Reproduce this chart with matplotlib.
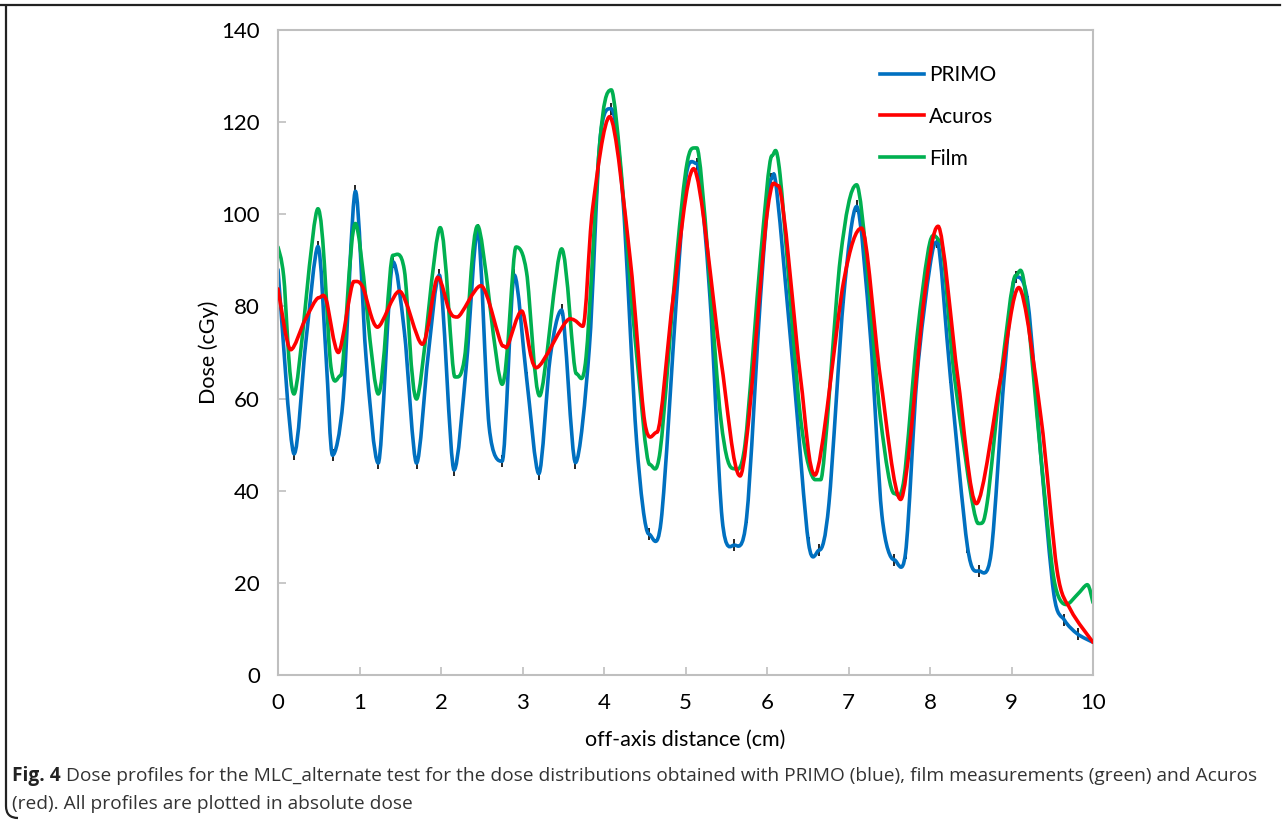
import numpy as np
import matplotlib
matplotlib.use("Agg")
import matplotlib.pyplot as plt
from matplotlib.path import Path
from matplotlib.patches import PathPatch
from matplotlib.lines import Line2D

# PRIMO (blue)
primo_x = [0.00, 0.197, 0.34, 0.49, 0.59, 0.67, 0.80, 0.95, 1.08, 1.23, 1.41, 1.55, 1.70, 1.84,
           1.98, 2.16, 2.31, 2.45, 2.59, 2.75, 2.90, 3.05, 3.20, 3.34, 3.48, 3.65, 3.82, 3.95,
           4.09, 4.23, 4.40, 4.55, 4.70, 4.89, 5.01, 5.14, 5.30, 5.45, 5.60, 5.75, 5.92, 6.05,
           6.12, 6.33, 6.51, 6.64, 6.76, 6.94, 7.10, 7.27, 7.41, 7.56, 7.70, 7.84, 8.00, 8.09,
           8.25, 8.46, 8.60, 8.75, 8.91, 9.05, 9.20, 9.36, 9.52, 9.65, 9.81, 10.0]
primo_y = [88, 48, 72, 93, 69, 47.7, 60, 105, 69, 46, 89.7, 74.6, 46, 69,
           86.8, 44.5, 67, 96.6, 54, 46.4, 86.8, 64.5, 43.7, 69, 79.2, 46.1, 71, 115.9,
           122.9, 104, 50.7, 30.6, 33.3, 82, 108.6, 111, 82, 33.8, 28.2, 34.2, 82, 107.7,
           105, 64.7, 28.6, 27.1, 37.2, 82, 101.7, 73.3, 34.7, 25, 26.5, 64.7, 88.8, 94,
           64.7, 27.8, 22.6, 26.5, 64.7, 86.4, 81, 47.5, 17.5, 11.9, 8.9, 7.1]

# Acuros (red)
acuros_x = [0.00, 0.156, 0.33, 0.50, 0.59, 0.74, 0.93, 1.04, 1.22, 1.49, 1.77, 1.96, 2.10, 2.20,
            2.49, 2.76, 2.82, 2.99, 3.17, 3.58, 3.74, 3.86, 4.07, 4.32, 4.50, 4.65, 4.85, 5.10,
            5.43, 5.67, 6.00, 6.14, 6.41, 6.59, 6.94, 7.16, 7.39, 7.64, 7.93, 8.10, 8.34, 8.57,
            8.87, 9.09, 9.36, 9.56, 9.73, 10.0]
acuros_y = [83.8, 70.6, 77, 81.9, 81.5, 70, 85.4, 84.2, 75.5, 83.3, 71.8, 86.3, 79.2, 77.7,
            84.5, 71.4, 71.6, 79, 66.7, 77.3, 75.7, 101.2, 121.2, 90.5, 54.9, 52.7, 82, 109.9,
            69, 43.2, 100, 106.2, 64.7, 43.4, 85.4, 97, 64.7, 38.1, 82, 97.4, 64.7, 37.2,
            64.7, 84.1, 56.1, 22.6, 14, 7.1]

# Film (green)
film_x = [0.00, 0.07, 0.197, 0.49, 0.65, 0.77, 0.95, 1.23, 1.41, 1.55, 1.70, 1.99, 2.17, 2.29,
          2.45, 2.75, 2.92, 3.05, 3.21, 3.48, 3.66, 3.78, 3.95, 4.09, 4.38, 4.56, 4.69, 4.89,
          5.02, 5.14, 5.43, 5.59, 5.73, 5.92, 6.06, 6.16, 6.41, 6.59, 6.66, 6.90, 7.10, 7.39,
          7.56, 7.68, 7.84, 8.00, 8.13, 8.30, 8.59, 8.70, 8.87, 9.05, 9.16, 9.36, 9.52, 9.67,
          9.81, 9.93, 10.0]
film_y = [92.9, 86.5, 61, 101.2, 66.8, 65, 98, 61, 91.1, 87.9, 59.9, 97.1, 64.7, 69,
          97.5, 63.1, 92.9, 87.4, 60.6, 92.5, 65.4, 69, 115.9, 127, 73.3, 45.7, 48.8, 90.5,
          111.2, 114.4, 56.1, 44.8, 50, 90.5, 112.7, 108.6, 56, 42.4, 42.4, 90.5, 106.4, 56,
          39.4, 42.4, 73.3, 94, 94.2, 64.7, 32.9, 37.2, 64.7, 86.7, 84.5, 47.5, 20.9, 15.3,
          17.5, 19.6, 15.7]

x_ticks = [0, 1, 2, 3, 4, 5, 6, 7, 8, 9, 10]
y_ticks = [0, 20, 40, 60, 80, 100, 120, 140]
series_names = ["PRIMO", "Acuros", "Film"]
caption_bold = "Fig. 4"
caption_1 = ("Dose profiles for the MLC_alternate test for the dose distributions obtained "
             "with PRIMO (blue), film measurements (green) and Acuros")
caption_2 = "(red). All profiles are plotted in absolute dose"


def smooth_path(xs, ys, tension=0.15):
    # smoothed line: cubic Bezier segments through every point,
    # flat tangents at local peaks/troughs so the curve does not overshoot
    p = np.column_stack([xs, ys]).astype(float)
    n = len(p)
    tang = np.zeros_like(p)
    for i in range(n):
        a = p[max(i - 1, 0)]
        b = p[min(i + 1, n - 1)]
        tang[i] = (b - a) * tension
        if 0 < i < n - 1 and (p[i, 1] - a[1]) * (p[i, 1] - b[1]) >= 0:
            tang[i, 1] = 0.0
    verts = [p[0]]
    codes = [Path.MOVETO]
    for i in range(n - 1):
        verts += [p[i] + tang[i], p[i + 1] - tang[i + 1], p[i + 1]]
        codes += [Path.CURVE4] * 3
    return Path(verts, codes)


fig = plt.figure(figsize=(12.84, 8.22), dpi=100)
ax = fig.add_axes([278 / 1284, 1 - 675 / 822, 815 / 1284, 645 / 822])

blue, red, green = "#0070C0", "#FF0000", "#00B050"

ax.errorbar(primo_x, primo_y, yerr=1.3, fmt="none", ecolor="black",
            elinewidth=1.2, zorder=1)
for xs, ys, c, z in [(primo_x, primo_y, blue, 2), (acuros_x, acuros_y, red, 3),
                     (film_x, film_y, green, 2.5)]:
    ax.add_patch(PathPatch(smooth_path(xs, ys), facecolor="none", edgecolor=c,
                           lw=2.6, zorder=z, capstyle="round", joinstyle="round"))

ax.set_xlim(0, 10)
ax.set_ylim(0, 140)
ax.set_xticks(x_ticks)
ax.set_yticks(y_ticks)
for s in ax.spines.values():
    s.set_color("#BFBFBF")
    s.set_linewidth(1.5)
ax.tick_params(direction="in", length=6, width=1.2, color="#BFBFBF",
               labelsize=16, pad=13)
for lab in ax.get_xticklabels() + ax.get_yticklabels():
    lab.set_fontfamily("Lato")
ax.set_xlabel("off-axis distance (cm)", fontsize=15.5, family="Lato", labelpad=12)
ax.set_ylabel("Dose (cGy)", fontsize=15.5, family="Lato", labelpad=2)

handles = [Line2D([], [], color=c, lw=2.6) for c in (blue, red, green)]
ax.legend(handles, series_names, loc="upper left",
          bbox_to_anchor=(0.716, 0.975), frameon=False, handlelength=2.1,
          handletextpad=0.25, labelspacing=1.05, prop={"family": "Lato", "size": 15})

# outer frame of the figure panel
fig.add_artist(Line2D([0, 1280 / 1284], [1 - 5 / 822] * 2, color="#222222", lw=1.6))
frame = Path([(6 / 1284, 1 - 5 / 822), (6 / 1284, 1 - 806 / 822),
              (6 / 1284, 1 - 818 / 822), (18 / 1284, 1 - 818 / 822)],
             [Path.MOVETO, Path.LINETO, Path.CURVE3, Path.CURVE3])
fig.add_artist(PathPatch(frame, facecolor="none", edgecolor="#222222", lw=1.6,
                         transform=fig.transFigure))

# caption
cap_size = 13.8
t_bold = fig.text(12 / 1284, 1 - 776 / 822, caption_bold, fontsize=cap_size,
                  fontweight="bold", va="center", family="Open Sans", color="#222222")
renderer = fig.canvas.get_renderer()
bb = t_bold.get_window_extent(renderer)
fig.text((bb.x1 + 5) / 1284, 1 - 776 / 822, caption_1, fontsize=cap_size,
         va="center", family="Open Sans", color="#333333")
fig.text(12 / 1284, 1 - 804 / 822, caption_2, fontsize=cap_size,
         va="center", family="Open Sans", color="#333333")

fig.savefig("out.png", dpi=100)
